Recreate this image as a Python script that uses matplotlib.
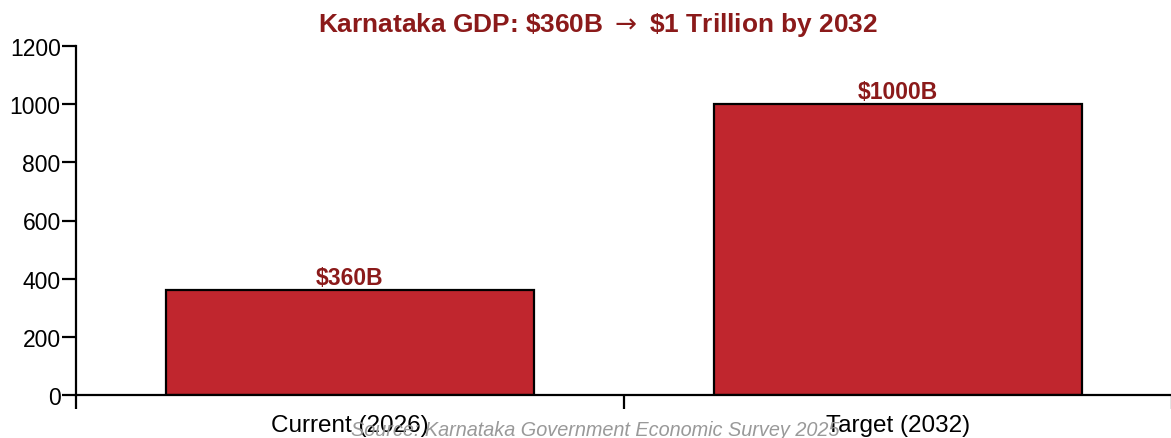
import matplotlib.pyplot as plt

categories = ['Current (2026)', 'Target (2032)']
gdp_billion = [360, 1000]
value_labels = [r'\$360B', r'\$1000B']

plt.rcParams['font.family'] = ['Liberation Sans', 'DejaVu Sans']

fig = plt.figure(figsize=(11.71, 4.39), dpi=100)
ax = fig.add_axes([76 / 1171, 43 / 439, 1096 / 1171, 349 / 439])

x = list(range(len(categories)))
ax.bar(x, gdp_billion, width=0.67, color='#c0262e', edgecolor='black', linewidth=1.6, zorder=2)

for xi, v, lab in zip(x, gdp_billion, value_labels):
    ax.text(xi, v + 5, lab, ha='center', va='bottom', fontsize=16.5,
            fontweight='bold', color='#8b1a1a')

ax.set_xlim(-0.5, 1.5)
ax.set_ylim(0, 1200)
ax.set_yticks([0, 200, 400, 600, 800, 1000, 1200])

# major ticks mark the category boundaries, labels sit on minor ticks
ax.set_xticks([-0.5, 0.5, 1.5])
ax.set_xticklabels([])
ax.set_xticks(x, minor=True)
ax.set_xticklabels(categories, minor=True)
ax.tick_params(axis='x', which='minor', length=0, pad=14, labelsize=17.5)
ax.tick_params(axis='x', which='major', length=10, width=1.6)
ax.tick_params(axis='y', length=10, width=1.6, labelsize=16.5, pad=1)

for side in ['top', 'right']:
    ax.spines[side].set_visible(False)
for side in ['left', 'bottom']:
    ax.spines[side].set_linewidth(1.6)

fig.text(598 / 1171, 1 - 25 / 439, r'Karnataka GDP: \$360B $\rightarrow$ \$1 Trillion by 2032',
         ha='center', va='center', fontsize=18.9, fontweight='bold', color='#8b1a1a')
fig.text(595 / 1171, 1 - 431 / 439, 'Source: Karnataka Government Economic Survey 2025',
         ha='center', va='center', fontsize=14.3, style='italic', color='#999999')

fig.savefig('out.png', dpi=100)
